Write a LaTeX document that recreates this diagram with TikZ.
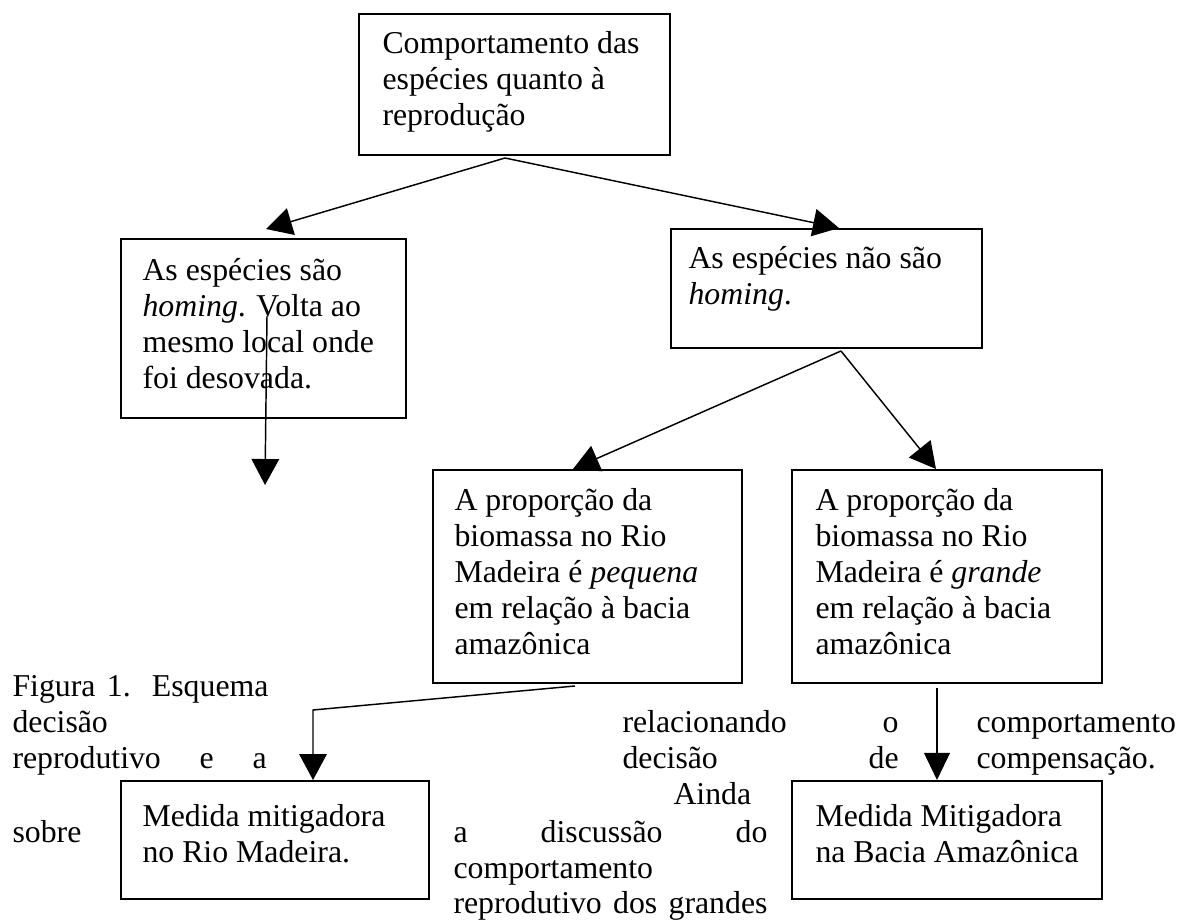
\documentclass[tikz,border=0pt]{standalone}
\usepackage{fontspec}
\setmainfont{Liberation Serif}
\usetikzlibrary{arrows.meta,calc,fit}
\newcommand\mylines[1]{\parbox[t]{200pt}{\raggedright\fontsize{12pt}{13.6pt}\selectfont #1}}
\begin{document}
\begin{tikzpicture}[x=0.3774pt,y=-0.3774pt,
  box/.style={draw,line width=0.75pt,fill=white,inner sep=0pt},
  txt/.style={anchor=base west,inner sep=0pt,font=\fontsize{12pt}{13.6pt}\selectfont},
  conn/.style={line width=0.55pt,-{Triangle[length=9.8pt,width=10.4pt]}},
  thickconn/.style={line width=1pt,-{Triangle[length=10.2pt,width=9.6pt]}}]
\useasboundingbox (0,0) rectangle (1177,922);

% boxes
\node[box,fit={(359,14)(670,155)}] (top) {};
\node[box,fit={(121,239)(406,418)}] (homing) {};
\node[box,fit={(671,229)(982,348)}] (nao) {};
\node[box,fit={(433,470)(742,683)}] (peq) {};
\node[box,fit={(792,470)(1102,683)}] (grande) {};
\node[box,fit={(121,781)(429,899)}] (medida) {};
\node[box,fit={(792,781)(1102,899)}] (bacia) {};

% box texts
\node[txt] (ttop) at (382,53) {\mylines{Comportamento das\\espécies quanto à\\reprodução}};
\node[txt] (thoming) at (142,280) {\mylines{As espécies são\\\textit{homing}. Volta ao\\mesmo local onde\\foi desovada.}};
\node[txt] (tnao) at (688,268) {\mylines{As espécies não são\\\textit{homing}.}};
\node[txt] (tpeq) at (454,510) {\mylines{A proporção da\\biomassa no Rio\\Madeira é \textit{pequena}\\em relação à bacia\\amazônica}};
\node[txt] (tgrande) at (815,510) {\mylines{A proporção da\\biomassa no Rio\\Madeira é \textit{grande}\\em relação à bacia\\amazônica}};
\node[txt] (tmedida) at (142,826) {\mylines{Medida mitigadora\\no Rio Madeira.}};
\node[txt] (tbacia) at (815,826) {\mylines{Medida Mitigadora\\na Bacia Amazônica}};

% connectors
\coordinate (hfree) at (265,485);
\draw[conn] ($(top.south)+(-9.5,2)$) -- ($(homing.north)+(2.5,-9)$);
\draw[conn] ($(top.south)+(-9.5,2)$) -- ($(nao.north)+(12.5,0)$);
\draw[conn] ($(homing.north)+(3.5,78)$) -- (hfree);
\draw[conn] ($(nao.south)+(14.5,2)$) -- ($(peq.north)+(-14.5,0)$);
\draw[conn] ($(nao.south)+(14.5,2)$) -- ($(grande.north)+(-11,0)$);
\draw[conn] ($(peq.south)+(-12.5,2)$) -- ($(medida.north)+(38,-70)$) -- ($(medida.north)+(38,0)$);
\draw[thickconn] ($(grande.south)+(-10,4)$) -- ($(bacia.north)+(-10,0)$);

% caption text wrapped around the figure
\node[txt] (c1) at (12,696) {\makebox[96.6pt][s]{Figura 1. Esquema}};
\node[txt] (c2) at (12,732) {decisão};
\node[txt] (c3) at (622,732) {\makebox[104.2pt][s]{relacionando o}};
\node[txt] (c4) at (976,732) {comportamento};
\node[txt] (c5) at (12,768) {\makebox[95.9pt][s]{reprodutivo e a}};
\node[txt] (c6) at (622,768) {\makebox[104.2pt][s]{decisão de}};
\node[txt] (c7) at (976,768) {compensação.};
\node[txt] (c8) at (673,804) {Ainda};
\node[txt] (c9) at (12,842) {sobre};
\node[txt] (c10) at (453,842) {\makebox[118.5pt][s]{a discussão do}};
\node[txt] (c11) at (453,878) {comportamento};
\node[txt] (c12) at (453,913) {\makebox[118.5pt][s]{reprodutivo dos grandes}};
\end{tikzpicture}
\end{document}
